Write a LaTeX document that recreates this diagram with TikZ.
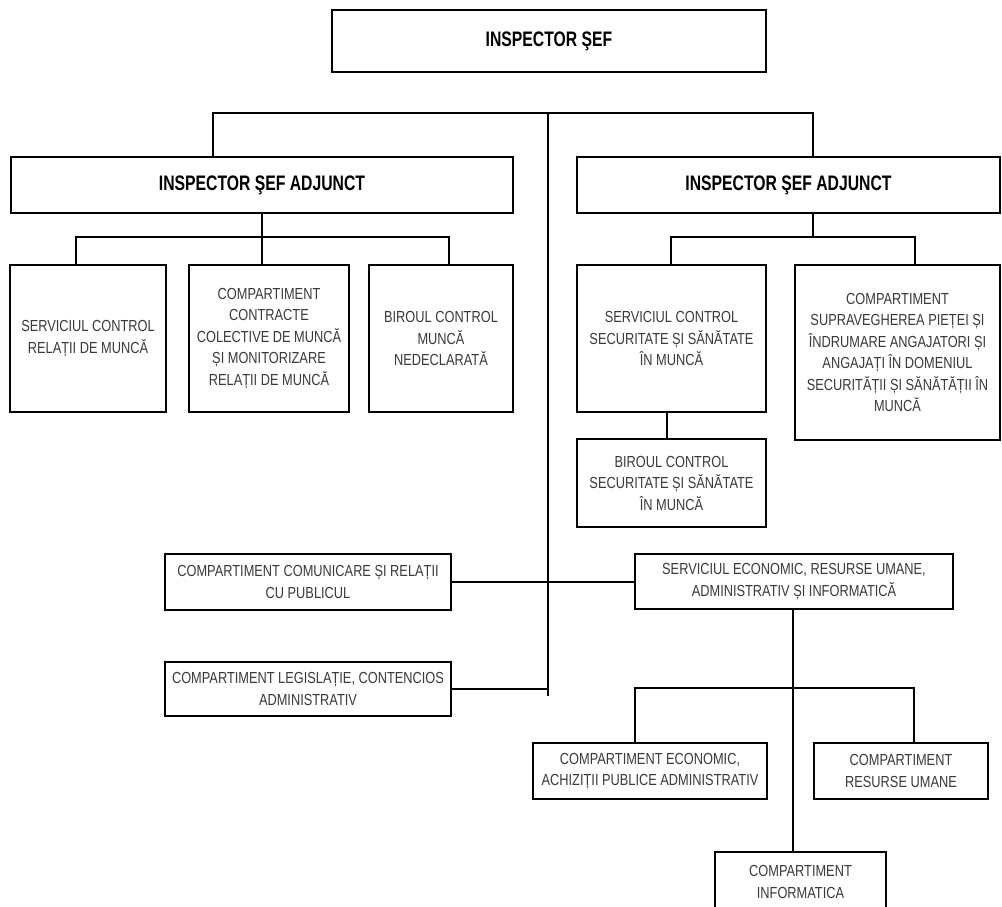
\documentclass[tikz,border=0pt]{standalone}
\usepackage{fontspec}
\newfontfamily\regf[FakeStretch=0.8]{Liberation Sans}
\newfontfamily\titlef[FakeStretch=0.75]{Liberation Sans Bold}
\definecolor{txt}{HTML}{3A3A3A}
\begin{document}
\begin{tikzpicture}[x=1pt,y=-1pt,
  box/.style={draw=black, line width=2.6pt, fill=white, inner sep=2pt, outer sep=0pt, align=center,
    text=txt, font=\regf\fontsize{16}{21.5}\selectfont},
  titlebox/.style={box, text=black, font=\titlef\fontsize{21}{24}\selectfont},
  conn/.style={draw=black, line width=1.5pt}]
\useasboundingbox[fill=white] (0,0) rectangle (1002,906);

% nodes
\node[titlebox, minimum width=434pt, minimum height=62pt] (chief) at (549,41) {INSPECTOR ŞEF};
\node[titlebox, minimum width=502pt, minimum height=56pt] (adjL) at (262,185) {INSPECTOR ŞEF ADJUNCT};
\node[titlebox, minimum width=423pt, minimum height=56pt] (adjR) at (788.5,185) {INSPECTOR ŞEF ADJUNCT};

\node[box, minimum width=156pt, minimum height=147pt] (b1) at (88,338.5) {SERVICIUL CONTROL\\RELAȚII DE MUNCĂ};
\node[box, minimum width=160pt, minimum height=147pt] (b2) at (269,338.5) {COMPARTIMENT\\CONTRACTE\\COLECTIVE DE MUNCĂ\\ȘI MONITORIZARE\\RELAȚII DE MUNCĂ};
\node[box, minimum width=144pt, minimum height=147pt] (b3) at (441,338.5) {BIROUL CONTROL\\MUNCĂ\\NEDECLARATĂ};

\node[box, minimum width=189pt, minimum height=147pt] (r1) at (671.5,338.5) {SERVICIUL CONTROL\\SECURITATE ȘI SĂNĂTATE\\ÎN MUNCĂ};
\node[box, minimum width=189pt, minimum height=88pt] (r1b) at (671.5,483) {BIROUL CONTROL\\SECURITATE ȘI SĂNĂTATE\\ÎN MUNCĂ};
\node[box, minimum width=205pt, minimum height=175pt] (r2) at (897.5,352.5) {COMPARTIMENT\\SUPRAVEGHEREA PIEȚEI ȘI\\ÎNDRUMARE ANGAJATORI ȘI\\ANGAJAȚI ÎN DOMENIUL\\SECURITĂȚII ȘI SĂNĂTĂȚII ÎN\\MUNCĂ};

\node[box, minimum width=286pt, minimum height=56pt] (com) at (308,582) {COMPARTIMENT COMUNICARE ȘI RELAȚII\\CU PUBLICUL};
\node[box, minimum width=286pt, minimum height=54pt] (leg) at (308,689) {COMPARTIMENT LEGISLAȚIE, CONTENCIOS\\ADMINISTRATIV};

\node[box, minimum width=318pt, minimum height=55pt] (eco) at (794,581.5) {SERVICIUL ECONOMIC, RESURSE UMANE,\\ADMINISTRATIV ȘI INFORMATICĂ};
\node[box, minimum width=234pt, minimum height=56pt] (ec2) at (650,771) {COMPARTIMENT ECONOMIC,\\ACHIZIȚII PUBLICE ADMINISTRATIV};
\node[box, minimum width=174pt, minimum height=56pt] (ru) at (901,771) {COMPARTIMENT\\RESURSE UMANE};
\node[box, minimum width=171pt, minimum height=60pt] (inf) at (800.5,882) {COMPARTIMENT\\INFORMATICA};

% coordinates
\coordinate (busL) at (213,113);
\coordinate (busR) at (813,113);
\coordinate (busC) at (548,113);
\coordinate (spineEnd) at (548,696);
\coordinate (lbus) at (262,237);
\coordinate (lb1) at (76,237);
\coordinate (lb2) at (262,237);
\coordinate (lb3) at (449,237);
\coordinate (rbus) at (813,237);
\coordinate (rb1) at (671,237);
\coordinate (rb2) at (915,237);
\coordinate (r1link) at (667,412);
\coordinate (ebus) at (793,688);
\coordinate (eb1) at (635,688);
\coordinate (eb2) at (914,688);

% connectors
\draw[conn] (adjL.north -| busL) -- (busL) -- (busR) -- (adjR.north -| busR);
\draw[conn] (busC) -- (spineEnd);
\draw[conn] (adjL.south -| lbus) -- (lbus);
\draw[conn] (b1.north -| lb1) -- (lb1) -- (lb3) -- (b3.north -| lb3);
\draw[conn] (lb2) -- (b2.north -| lb2);
\draw[conn] (adjR.south -| rbus) -- (rbus);
\draw[conn] (r1.north -| rb1) -- (rb1) -- (rb2) -- (r2.north -| rb2);
\draw[conn] (r1.south -| r1link) -- (r1b.north -| r1link);
\draw[conn] (com.east) -- (com.east -| eco.west);
\draw[conn] (leg.east) -- (leg.east -| spineEnd);
\draw[conn] (eco.south -| ebus) -- (inf.north -| ebus);
\draw[conn] (ec2.north -| eb1) -- (eb1) -- (eb2) -- (ru.north -| eb2);
\end{tikzpicture}
\end{document}
